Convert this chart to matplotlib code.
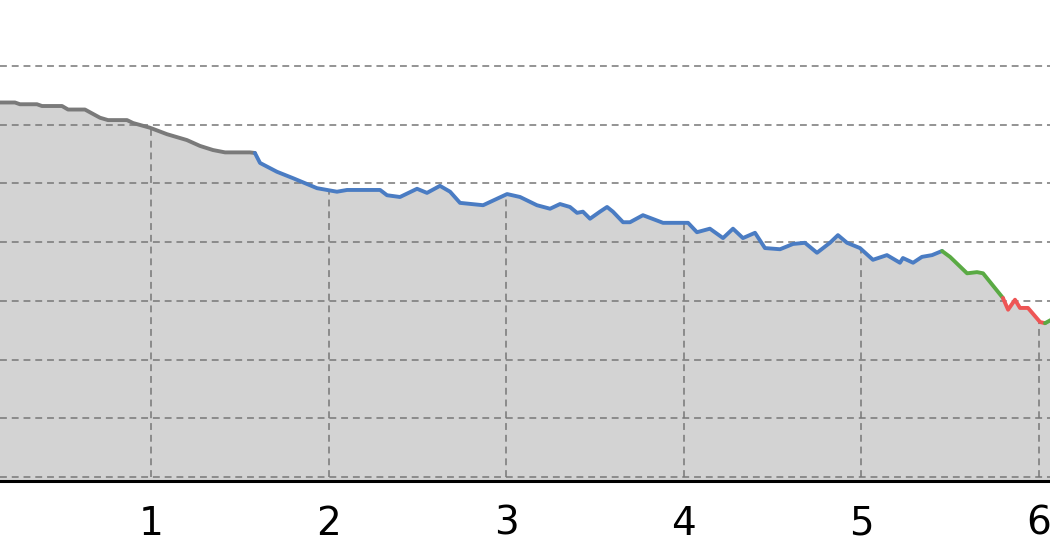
import matplotlib
matplotlib.use("Agg")
import matplotlib.pyplot as plt
import numpy as np

# distance (km) and elevation (m), split by colour
gray_km = [0.140, 0.234, 0.262, 0.358, 0.386, 0.499, 0.533, 0.628, 0.713, 0.758, 0.865,
           0.899, 0.994, 1.090, 1.202, 1.276, 1.349, 1.417, 1.557, 1.585]
gray_m = [638, 638, 635, 635, 632, 632, 626, 626, 612, 608, 608,
          603, 595, 584, 574, 564, 557, 553, 553, 552]

blue_km = [1.585, 1.614, 1.709, 1.800, 1.935, 2.047, 2.104, 2.290, 2.329, 2.402, 2.498, 2.554,
           2.627, 2.684, 2.740, 2.870, 3.005, 3.078, 3.173, 3.247, 3.303, 3.359, 3.399, 3.432,
           3.472, 3.528, 3.568, 3.601, 3.658, 3.697, 3.770, 3.883, 4.024, 4.074, 4.147, 4.221,
           4.277, 4.333, 4.401, 4.457, 4.542, 4.615, 4.682, 4.750, 4.823, 4.868, 4.919, 4.992,
           5.065, 5.144, 5.217, 5.234, 5.291, 5.341, 5.398, 5.454]
blue_m = [552, 535, 520, 509, 492, 486, 489, 489, 480, 477, 491, 484,
          496, 486, 467, 463, 482, 477, 463, 457, 465, 460, 450, 452,
          440, 452, 460, 452, 434, 434, 446, 433, 433, 417, 423, 407,
          423, 407, 416, 390, 388, 397, 399, 382, 399, 412, 399, 390,
          370, 378, 365, 373, 365, 375, 378, 385]

green_km = [5.454, 5.499, 5.595, 5.651, 5.685, 5.797]
green_m = [385, 375, 347, 349, 347, 305]

red_km = [5.797, 5.826, 5.865, 5.893, 5.938, 6.006, 6.034]
red_m = [305, 285, 302, 288, 288, 264, 262]

green2_km = [6.034, 6.070]
green2_m = [262, 268]

km_ticks = [1, 2, 3, 4, 5, 6]
elev_grid = list(range(0, 800, 100))

segments = [
    (gray_km, gray_m, "#7a7a7a"),
    (blue_km, blue_m, "#4a7cc3"),
    (green_km, green_m, "#5aaa44"),
    (red_km, red_m, "#ee5555"),
    (green2_km, green2_m, "#5aaa44"),
]

grid_style = dict(color="#777777", lw=1.1, linestyle=(0, (4.5, 3.2)))

fig = plt.figure(figsize=(10.5, 5.6), dpi=100)
ax = fig.add_axes([0, 0.1411, 1, 0.8589])

all_km = []
all_m = []
for km, m, c in segments:
    all_km += km
    all_m += m
ax.fill_between(all_km, all_m, -50, color="#d3d3d3", lw=0, zorder=1)

# horizontal grid across the full width
for v in elev_grid:
    ax.axhline(v, zorder=1.5, **grid_style)
# vertical grid only under the profile
tops = np.interp(km_ticks, all_km, all_m)
ax.vlines(km_ticks, 0, tops, zorder=1.5, **grid_style)

for km, m, c in segments:
    ax.plot(km, m, color=c, lw=2.8, solid_capstyle="round", solid_joinstyle="round", zorder=3)

ax.set_xlim(0.1498, 6.062)
ax.set_ylim(-6.8, 812.6)
ax.set_xticks(km_ticks)
ax.set_yticks([])
ax.tick_params(axis="x", length=0, pad=17, labelsize=28)

for s in ["left", "top", "right"]:
    ax.spines[s].set_visible(False)
ax.spines["bottom"].set_linewidth(2.2)
ax.spines["bottom"].set_color("black")

fig.savefig("out.png", dpi=100)
